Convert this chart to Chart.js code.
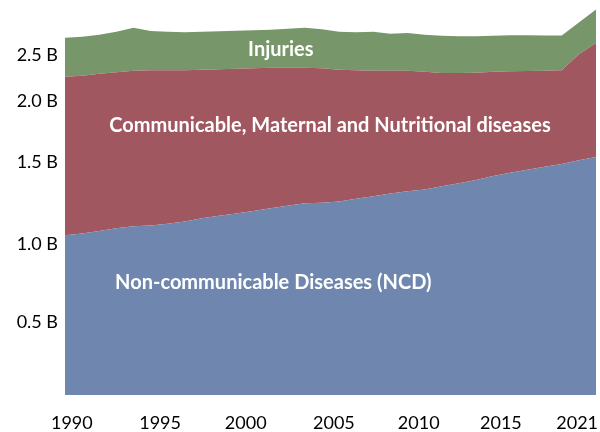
<!DOCTYPE html>
<html>
<head>
<meta charset="utf-8">
<script src="https://cdn.jsdelivr.net/npm/chart.js@4"></script>
<style>
  html, body { margin: 0; padding: 0; background: #ffffff; }
  #wrap { width: 600px; height: 432px; }
</style>
</head>
<body>
<div id="wrap"><canvas id="c" width="600" height="432"></canvas></div>
<script>
// ---- data (billions) ----
const years = [1990,1991,1992,1993,1994,1995,1996,1997,1998,1999,2000,2001,2002,2003,2004,2005,2006,2007,2008,2009,2010,2011,2012,2013,2014,2015,2016,2017,2018,2019,2020,2021];
const ncd = [1.158,1.172,1.189,1.209,1.223,1.230,1.241,1.259,1.281,1.299,1.317,1.335,1.354,1.372,1.390,1.394,1.404,1.423,1.441,1.462,1.477,1.491,1.513,1.535,1.560,1.589,1.611,1.633,1.655,1.676,1.702,1.726];
const cmnn = [1.150,1.143,1.140,1.131,1.128,1.125,1.114,1.096,1.077,1.063,1.049,1.034,1.019,1.002,0.983,0.975,0.954,0.932,0.910,0.889,0.874,0.853,0.822,0.800,0.777,0.755,0.736,0.717,0.696,0.679,0.769,0.827];
const injuries = [0.282,0.283,0.283,0.294,0.312,0.284,0.279,0.275,0.276,0.276,0.275,0.276,0.276,0.282,0.291,0.283,0.276,0.275,0.283,0.269,0.274,0.268,0.270,0.266,0.264,0.261,0.262,0.259,0.256,0.252,0.230,0.242];
const seriesNames = ['Non-communicable Diseases (NCD)', 'Communicable, Maternal and Nutritional diseases', 'Injuries'];
const xTickLabels = ['1990','1995','2000','2005','2010','2015','2021'];
const yTickLabels = ['0.5 B','1.0 B','1.5 B','2.0 B','2.5 B'];
const gridValues = [0.5, 1.0, 1.5, 2.0, 2.5];

// ---- layout helpers (not data) ----
const xTickPos = [1990.4, 1995.55, 2000.55, 2005.7, 2010.65, 2015.45, 2019.9];
const yLabelPos = [0.529, 1.092, 1.685, 2.132, 2.463];
const labelAnchors = [
  {x: 2002.16, y: 0.813},
  {x: 2005.47, y: 1.952},
  {x: 2002.6, y: 2.508}
];

const colors = ['#6f86ae', '#a0575f', '#77976a'];
const pts = arr => arr.map((v, i) => ({x: years[i], y: v}));

const noPad = scale => { scale.paddingTop = 0; scale.paddingBottom = 0; scale.paddingLeft = 0; scale.paddingRight = 0; };

const labelPlugin = {
  id: 'areaLabels',
  afterDatasetsDraw(chart) {
    const ctx = chart.ctx;
    const xs = chart.scales.x, ys = chart.scales.y;
    ctx.save();
    ctx.fillStyle = '#ffffff';
    ctx.textAlign = 'center';
    ctx.textBaseline = 'middle';
    ctx.font = 'bold 20px Lato';
    seriesNames.forEach((name, i) => {
      const a = labelAnchors[i];
      ctx.fillText(name, xs.getPixelForValue(a.x), ys.getPixelForValue(a.y));
    });
    ctx.restore();
  }
};

new Chart(document.getElementById('c'), {
  type: 'line',
  data: {
    datasets: [
      {label: seriesNames[0], data: pts(ncd), backgroundColor: colors[0], borderColor: colors[0], borderWidth: 0, fill: 'origin', pointRadius: 0, tension: 0},
      {label: seriesNames[1], data: pts(cmnn), backgroundColor: colors[1], borderColor: colors[1], borderWidth: 0, fill: '-1', pointRadius: 0, tension: 0},
      {label: seriesNames[2], data: pts(injuries), backgroundColor: colors[2], borderColor: colors[2], borderWidth: 0, fill: '-1', pointRadius: 0, tension: 0}
    ]
  },
  options: {
    responsive: false,
    animation: false,
    layout: {padding: {top: 2, right: 4, left: 0, bottom: 0}},
    plugins: {legend: {display: false}, tooltip: {enabled: false}},
    scales: {
      x: {
        type: 'linear',
        min: 1990, max: 2021,
        grid: {display: false},
        border: {display: false},
        afterBuildTicks(scale) { scale.ticks = xTickPos.map(v => ({value: v})); },
        afterFit(scale) { scale.height = 37; noPad(scale); },
        ticks: {
          autoSkip: false, maxRotation: 0,
          color: '#000000',
          font: {family: 'Lato', size: 18},
          padding: 9,
          callback: (v, i) => xTickLabels[i]
        }
      },
      y: {
        type: 'linear',
        stacked: true,
        min: 0, max: 2.85,
        z: 1,
        position: 'left',
        border: {display: false, dash: [3, 3]},
        grid: {color: 'rgba(0,0,0,0.14)', lineWidth: 1, drawTicks: false},
        afterBuildTicks(scale) { scale.ticks = gridValues.map(v => ({value: v})); },
        afterFit(scale) { scale.width = 0; noPad(scale); },
        ticks: {display: false}
      },
      yl: {
        type: 'linear',
        min: 0, max: 2.85,
        position: 'left',
        border: {display: false},
        grid: {display: false, drawTicks: false},
        afterBuildTicks(scale) { scale.ticks = yLabelPos.map(v => ({value: v})); },
        afterFit(scale) { scale.width = 65; noPad(scale); },
        ticks: {
          color: '#000000',
          font: {family: 'Lato', size: 18},
          padding: 7,
          callback: (v, i) => yTickLabels[i]
        }
      }
    }
  },
  plugins: [labelPlugin]
});
</script>
</body>
</html>
